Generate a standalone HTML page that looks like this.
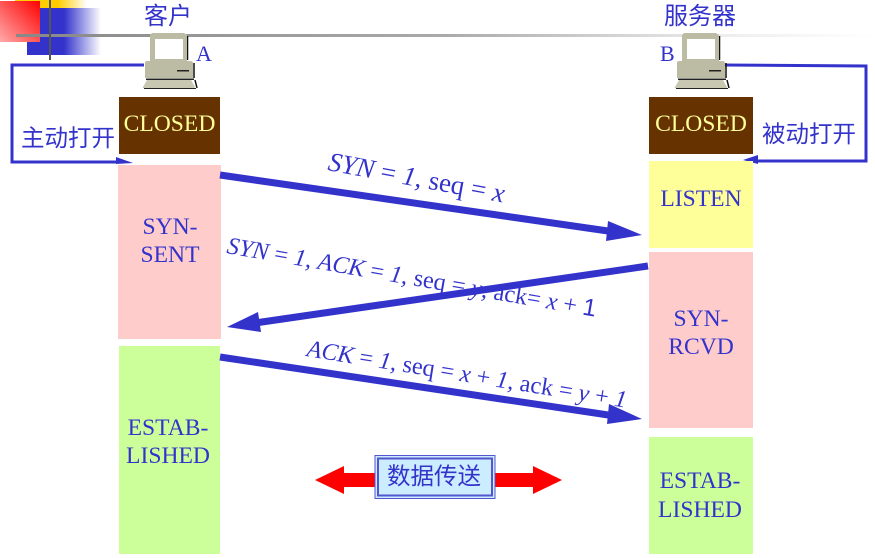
<!DOCTYPE html>
<html><head><meta charset="utf-8">
<style>
html,body{margin:0;padding:0;background:#fff;width:875px;height:558px;overflow:hidden}
svg{display:block}
.s{font-family:"Liberation Serif",serif;fill:#3333cc}
.c{font-family:"Liberation Sans","Noto Sans CJK SC",sans-serif;fill:#3333cc}
</style></head><body>
<svg width="875" height="558" viewBox="0 0 875 558" xmlns="http://www.w3.org/2000/svg">
<defs>
<linearGradient id="y" x1="0" x2="1" y1="0" y2="0"><stop offset="0" stop-color="#ffcc00"/><stop offset=".6" stop-color="#ffcc00"/><stop offset="1" stop-color="#fff"/></linearGradient>
<linearGradient id="b" x1="0" x2="1" y1="0" y2="0"><stop offset="0" stop-color="#3333cc"/><stop offset=".5" stop-color="#3333cc"/><stop offset="1" stop-color="#fff"/></linearGradient>
<linearGradient id="r" x1="1" x2="0" y1="0" y2="1"><stop offset="0" stop-color="#ff0000"/><stop offset="1" stop-color="#ffaaaa"/></linearGradient>
<linearGradient id="l" x1="0" x2="1" y1="0" y2="0"><stop offset="0" stop-color="#888"/><stop offset=".5" stop-color="#aaa"/><stop offset=".83" stop-color="#eee"/><stop offset="1" stop-color="#fff"/></linearGradient>
<g id="pc">
<path d="M43.500 3V27M50 30V45M51 47L53 55" fill="none" stroke="#111" stroke-width="1.500"/>
<rect x="0" y="55" width="52" height="1" fill="#222"/>
<rect x="2" y="45.500" width="48" height="1.500" fill="#222"/>
<path d="M8 0H40L43 2V28H6V2Z" fill="#bcbca4"/>
<rect x="11" y="6" width="28" height="20" fill="#fff"/>
<path d="M3 28H46Q49 28 49 30V45H1V30Q1 28 3 28Z" fill="#bcbca4"/>
<rect x="33" y="37" width="12" height="1.500" fill="#222"/>
<path d="M3 47H47L51 54Q51 55 49 55H0Q-2 55 -1 54Z" fill="#c8c8b2"/>
</g>
</defs>

<rect x="15" y="0" width="72" height="10" fill="url(#y)"/>
<rect x="27" y="8" width="74" height="47" fill="url(#b)"/>
<rect x="0" y="1" width="40" height="41" fill="url(#r)"/>
<rect x="16" y="34" width="859" height="3" fill="url(#l)"/>
<rect x="49" y="0" width="2" height="60" fill="#555"/>

<text class="c" x="144" y="24" font-size="24">客户</text>
<text class="c" x="664" y="24" font-size="24">服务器</text>
<text class="s" x="196" y="61" font-size="22">A</text>
<text class="s" x="660" y="61" font-size="22">B</text>

<path d="M144 65H12V162H120" fill="none" stroke="#3333cc" stroke-width="3"/>
<path d="M116 157L133 163L116 164Z" fill="#3333cc"/>
<path d="M722 65L866 66V161H755" fill="none" stroke="#3333cc" stroke-width="3"/>
<path d="M743 160L758 155V164Z" fill="#3333cc"/>

<use href="#pc" x="144" y="33"/>
<use href="#pc" x="676" y="33"/>

<text class="c" x="21" y="146" font-size="23.500">主动打开</text>
<text class="c" x="762" y="142" font-size="23.500">被动打开</text>

<rect x="119" y="97" width="101" height="57" fill="#663300"/>
<rect x="649" y="97" width="104" height="57" fill="#663300"/>
<text class="s" x="169.500" y="131" font-size="23.600" style="fill:#ffff99" text-anchor="middle">CLOSED</text>
<text class="s" x="701" y="131" font-size="23.600" style="fill:#ffff99" text-anchor="middle">CLOSED</text>

<rect x="118" y="165" width="103" height="174" fill="#ffcccc"/>
<rect x="119" y="346" width="101" height="208" fill="#ccff99"/>
<rect x="649" y="161" width="104" height="87" fill="#ffff99"/>
<rect x="649" y="252" width="104" height="176" fill="#ffcccc"/>
<rect x="649" y="437" width="104" height="117" fill="#ccff99"/>

<g font-size="23.600" text-anchor="middle">
<text class="s" x="170" y="234">SYN-</text>
<text class="s" x="170" y="262">SENT</text>
<text class="s" x="168" y="435">ESTAB-</text>
<text class="s" x="168" y="463">LISHED</text>
<text class="s" x="701" y="206">LISTEN</text>
<text class="s" x="701" y="326">SYN-</text>
<text class="s" x="701" y="354">RCVD</text>
<text class="s" x="700" y="488">ESTAB-</text>
<text class="s" x="700" y="517">LISHED</text>
</g>

<line x1="220" y1="175" x2="615" y2="232" stroke="#3333cc" stroke-width="7"/>
<path d="M642 235L608 221L606 241Z" fill="#3333cc"/>
<line x1="648" y1="266" x2="255" y2="323" stroke="#3333cc" stroke-width="7"/>
<path d="M227 327L258 312L261 332Z" fill="#3333cc"/>
<line x1="220" y1="357" x2="615" y2="416" stroke="#3333cc" stroke-width="7"/>
<path d="M642 419L609 404L607 424Z" fill="#3333cc"/>

<text class="s" x="327" y="170" font-size="27" transform="rotate(10.500 327 170)"><tspan font-style="italic">SYN</tspan> = <tspan font-style="italic">1</tspan>, seq = <tspan font-style="italic">x</tspan></text>
<text class="s" x="226" y="253" font-size="24.300" transform="rotate(9.800 226 253)"><tspan font-style="italic">SYN</tspan> = <tspan font-style="italic">1</tspan>, <tspan font-style="italic">ACK</tspan> = <tspan font-style="italic">1</tspan>, seq = <tspan font-style="italic">y</tspan>, ack= <tspan font-style="italic">x</tspan> + <tspan font-family="Liberation Sans">1</tspan></text>
<text class="s" x="306" y="356" font-size="24.200" transform="rotate(9.200 306 356)"><tspan font-style="italic">ACK</tspan> = <tspan font-style="italic">1</tspan>, seq = <tspan font-style="italic">x</tspan> + <tspan font-style="italic">1</tspan>, ack = <tspan font-style="italic">y</tspan> + <tspan font-style="italic">1</tspan></text>

<path d="M315 480L344 466V473H533V466L562 480L533 494V487H344V494Z" fill="#ff0000"/>
<rect x="375" y="455.500" width="120" height="43" fill="#ccecff" stroke="#5555cc" stroke-width="1"/>
<rect x="378" y="458.500" width="114" height="37" fill="#ccecff" stroke="#5555cc" stroke-width="2"/>
<text class="c" x="387" y="484" font-size="23.500">数据传送</text>
</svg>
</body></html>
